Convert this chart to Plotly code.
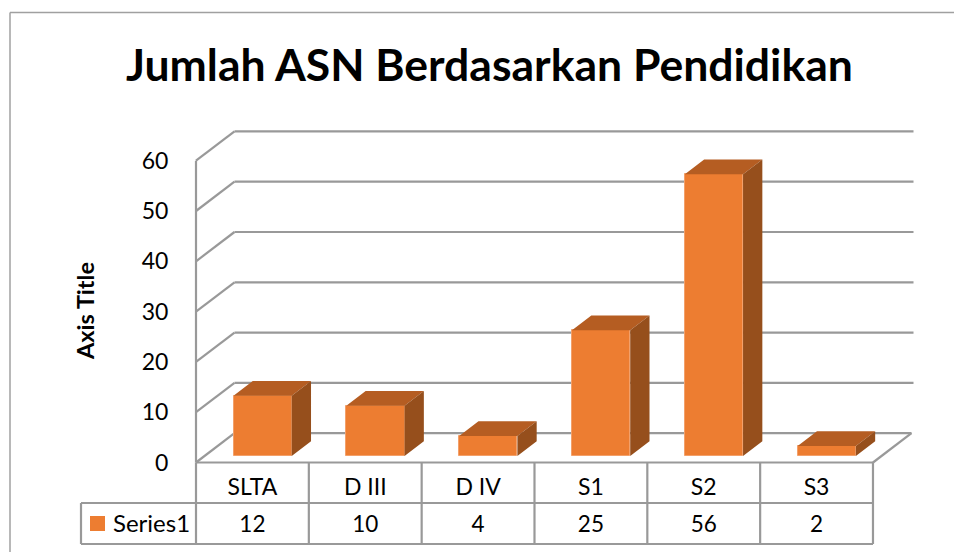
import plotly.graph_objects as go

categories = ["SLTA", "D III", "D IV", "S1", "S2", "S3"]
values = [12, 10, 4, 25, 56, 2]
series_name = "Series1"
y_ticks = [0, 10, 20, 30, 40, 50, 60]
title_text = "Jumlah ASN Berdasarkan Pendidikan"
axis_title = "Axis Title"

W, H = 954, 552
PX_X = 112.83          # pixels per category
PX_Y = 5.03            # pixels per value unit
X0, Y0 = 196.0, 462.5  # pixel position of data origin
L, R, T, B = 190, 916, 128, 546
FONT = "Lato"
GREY = "#999999"
FRONT, TOP, SIDE = "#ED7D31", "#B55D22", "#964F1C"

wall_dx, wall_dy = 38.5 / PX_X, 29.3 / PX_Y
bar_dx, bar_dy = 19.3 / PX_X, 14.7 / PX_Y
bar_w = 58.2 / PX_X
bar_off = 10.2 / PX_X
bar_base = 6.5 / PX_Y
n = len(categories)
x_end = (913.5 - X0) / PX_X

px = lambda v: (v - L) / (R - L)
py = lambda v: (B - v) / (B - T)
yrow = lambda v: (Y0 - v) / PX_Y

shapes = []
def line(x0, y0, x1, y1, ref="x", color=GREY, width=2.2):
    shapes.append(dict(type="line", xref=ref, yref=ref.replace("x", "y"),
                       x0=x0, y0=y0, x1=x1, y1=y1, layer="below",
                       line=dict(color=color, width=width)))

# walls and gridlines
for t in y_ticks:
    if t == 0:
        line(0, 0, wall_dx, wall_dy)
        line(wall_dx, wall_dy, n + wall_dx, wall_dy)
    else:
        line(0, t, wall_dx, t + wall_dy)
        line(wall_dx, t + wall_dy, x_end, t + wall_dy)
line(0, 0, 0, y_ticks[-1])
line(0, 0, n, 0)
line(n, 0, n + wall_dx, wall_dy)

# data table
ty1, ty2 = yrow(503), yrow(544)
for i in range(n + 1):
    line(i, 0, i, ty2)
line(0, ty1, n, ty1)
line(0, ty2, n, ty2)
line(px(81), py(503), px(196), py(503), ref="paper")
line(px(81), py(544), px(196), py(544), ref="paper")
line(px(81), py(503), px(81), py(544), ref="paper")

# chart frame
line(px(10), py(12.5), px(954), py(12.5), ref="paper", color="#a0a0a0", width=1.5)
line(px(10), py(12.5), px(10), py(552), ref="paper", color="#a0a0a0", width=1.5)

# legend key
shapes.append(dict(type="rect", xref="paper", yref="paper", x0=px(90), x1=px(105),
                   y0=py(516), y1=py(531), fillcolor=FRONT, line=dict(width=0)))

fig = go.Figure()
xs = [i + 0.5 + bar_off for i in range(n)]
fig.add_bar(x=xs, y=values, base=[bar_base] * n, width=bar_w, name=series_name,
            marker=dict(color=FRONT, line=dict(color="#F3A06A", width=1)),
            showlegend=False, hoverinfo="skip")

top_x, top_y, side_x, side_y = [], [], [], []
for c, v in zip(xs, values):
    l, r = c - bar_w / 2, c + bar_w / 2
    y_top, y_bot = bar_base + v, bar_base
    top_x += [l, l + bar_dx, r + bar_dx, r, l, None]
    top_y += [y_top, y_top + bar_dy, y_top + bar_dy, y_top, y_top, None]
    side_x += [r, r + bar_dx, r + bar_dx, r, r, None]
    side_y += [y_top, y_top + bar_dy, y_bot + bar_dy, y_bot, y_top, None]
for fx, fy, col in ((top_x, top_y, TOP), (side_x, side_y, SIDE)):
    fig.add_scatter(x=fx, y=fy, mode="lines", fill="toself", fillcolor=col,
                    line=dict(width=0, color=col), showlegend=False, hoverinfo="skip")

centers = [i + 0.5 for i in range(n)]
fig.add_scatter(x=centers, y=[yrow(489.5)] * n, mode="text", text=categories,
                textfont=dict(family=FONT, size=23, color="#000000"),
                showlegend=False, hoverinfo="skip")
fig.add_scatter(x=centers, y=[yrow(526)] * n, mode="text", text=[str(v) for v in values],
                textfont=dict(family=FONT, size=22.5, color="#000000"),
                showlegend=False, hoverinfo="skip")

fig.update_layout(
    width=W, height=H, autosize=False,
    margin=dict(l=L, r=W - R, t=T, b=H - B, pad=0),
    paper_bgcolor="white", plot_bgcolor="white",
    shapes=shapes,
    bargap=0,
    xaxis=dict(range=[(L - X0) / PX_X, (R - X0) / PX_X], showgrid=False, zeroline=False,
               showline=False, showticklabels=False, ticks=""),
    yaxis=dict(range=[(Y0 - B) / PX_Y, (Y0 - T) / PX_Y], tickvals=y_ticks, showgrid=False,
               zeroline=False, showline=False, ticks="outside", ticklen=16,
               tickcolor="rgba(0,0,0,0)", tickfont=dict(family=FONT, size=23, color="#000000")),
    annotations=[
        dict(text="<b>%s</b>" % title_text, xref="paper", yref="paper", x=px(489.5), y=py(63),
             showarrow=False, xanchor="center", yanchor="middle",
             font=dict(family=FONT, size=44.5, color="#000000")),
        dict(text="<b>%s</b>" % axis_title, xref="paper", yref="paper", x=px(85), y=py(311),
             showarrow=False, textangle=-90, xanchor="center", yanchor="middle",
             font=dict(family=FONT, size=23.5, color="#000000")),
        dict(text=series_name, xref="paper", yref="paper", x=px(111), y=py(522.5),
             showarrow=False, xanchor="left", yanchor="middle",
             font=dict(family=FONT, size=24, color="#000000")),
    ],
)

fig.write_html("out.html", config={"displayModeBar": False},
               post_script="document.body.style.margin='0';document.body.style.overflow='hidden';")
